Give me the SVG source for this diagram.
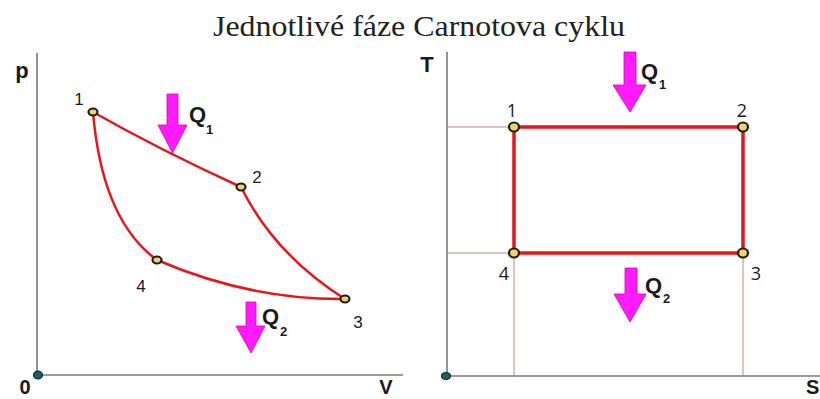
<svg xmlns="http://www.w3.org/2000/svg" width="820" height="399" viewBox="0 0 820 399">
<style>
.axis{stroke:#7a7a7a;stroke-width:1.6;fill:none}
.guide{stroke:#c08888;stroke-width:1;fill:none}
.cyc{stroke:#e8141c;fill:none;stroke-linecap:round;stroke-linejoin:round}
.pt{fill:#e9d76a;stroke:#1e1e1e;stroke-width:2.2}
.org{fill:#1f5e5e;stroke:#0d2e2e;stroke-width:1.2}
.arr{fill:#ff1aff;stroke:#e0009e;stroke-width:0.8}
.ax{font-family:"Liberation Sans",Arial,sans-serif;font-weight:bold;font-size:22px;fill:#1a1a1a}
.axb{font-family:"Liberation Sans",Arial,sans-serif;font-weight:bold;font-size:20px;fill:#1a1a1a}
.q{font-family:"Liberation Sans",Arial,sans-serif;font-weight:bold;font-size:22px;fill:#1a1a1a}
.qs{font-family:"Liberation Sans",Arial,sans-serif;font-weight:bold;font-size:13px;fill:#1a1a1a}
.lbl{font-family:"Liberation Sans",Arial,sans-serif;font-size:17px;fill:#1a1a1a}
.lbr{font-family:"Open Sans","DejaVu Sans",sans-serif;font-size:18px;fill:#1a1a1a}
.title{font-family:"Liberation Serif","Times New Roman",serif;font-size:29px;fill:#222}
</style>
<text class="title" x="213" y="36" textLength="412" lengthAdjust="spacingAndGlyphs">Jednotlivé fáze Carnotova cyklu</text>

<g id="pv-axes">
<line class="axis" x1="37" y1="53" x2="37" y2="375"/>
<line class="axis" x1="37" y1="375" x2="403" y2="375"/>
<ellipse class="org" cx="38" cy="375" rx="4.5" ry="3.8"/>
<text class="ax" x="22" y="78" text-anchor="middle">p</text>
<text class="axb" x="25" y="394" text-anchor="middle">0</text>
<text class="axb" x="386" y="394" text-anchor="middle">V</text>
</g>

<g id="pv-connectors">
<path class="cyc" stroke-width="2.5" d="M93,112 Q160,150 241,187"/>
<path class="cyc" stroke-width="2.5" d="M241,187 Q275,255 345,299"/>
<path class="cyc" stroke-width="2.5" d="M93,112 Q102,220 157,260"/>
<path class="cyc" stroke-width="2.5" d="M157,260 Q250,300 345,299"/>
</g>

<g id="pv-node1"><ellipse class="pt" cx="93" cy="112" rx="4.5" ry="3.5"/><text class="lbl" x="79" y="105" text-anchor="middle">1</text></g>
<g id="pv-node2"><ellipse class="pt" cx="241" cy="187" rx="4.5" ry="3.5"/><text class="lbl" x="257" y="183" text-anchor="middle">2</text></g>
<g id="pv-node3"><ellipse class="pt" cx="345" cy="299" rx="4.5" ry="3.5"/><text class="lbl" x="358" y="328" text-anchor="middle">3</text></g>
<g id="pv-node4"><ellipse class="pt" cx="157" cy="260" rx="4.5" ry="3.5"/><text class="lbl" x="141" y="292" text-anchor="middle">4</text></g>

<g id="pv-q1">
<polygon class="arr" points="167,94 178,94 178,125 187,125 172.5,153 158,125 167,125"/>
<text class="q" x="189" y="122">Q</text><text class="qs" x="206" y="134">1</text>
</g>
<g id="pv-q2">
<polygon class="arr" points="246,302 256,302 256,326 265,326 251,353 236,326 246,326"/>
<text class="q" x="262" y="324">Q</text><text class="qs" x="280" y="336">2</text>
</g>

<g id="ts-axes">
<line class="axis" x1="447" y1="52" x2="447" y2="376"/>
<line class="axis" x1="447" y1="376" x2="820" y2="376"/>
<ellipse class="org" cx="446" cy="376" rx="4.5" ry="3.5"/>
<text class="ax" x="427" y="72" text-anchor="middle">T</text>
<text class="axb" x="806" y="394">S</text>
</g>

<g id="ts-guides">
<line class="guide" x1="447" y1="127" x2="514" y2="127"/>
<line class="guide" x1="447" y1="253" x2="514" y2="253"/>
<line class="guide" x1="514" y1="253" x2="514" y2="376"/>
<line class="guide" x1="743" y1="253" x2="743" y2="376"/>
</g>

<g id="ts-connectors">
<rect class="cyc" stroke-width="3.5" x="514" y="127" width="229" height="126"/>
</g>

<g id="ts-node1"><ellipse class="pt" cx="514" cy="127" rx="5" ry="4.5"/><text class="lbr" x="512" y="117" text-anchor="middle">1</text></g>
<g id="ts-node2"><ellipse class="pt" cx="743" cy="127" rx="5" ry="4.5"/><text class="lbr" x="742" y="117" text-anchor="middle">2</text></g>
<g id="ts-node3"><ellipse class="pt" cx="743" cy="253" rx="5" ry="4.5"/><text class="lbr" x="756" y="280" text-anchor="middle">3</text></g>
<g id="ts-node4"><ellipse class="pt" cx="514" cy="253" rx="5" ry="4.5"/><text class="lbr" x="504" y="280" text-anchor="middle">4</text></g>

<g id="ts-q1">
<polygon class="arr" points="624,52 636,52 636,85 646,85 630,112 613,85 624,85"/>
<text class="q" x="641" y="79">Q</text><text class="qs" x="659" y="89">1</text>
</g>
<g id="ts-q2">
<polygon class="arr" points="625,268 637,268 637,294 646,294 630,322 614,294 625,294"/>
<text class="q" x="645" y="293">Q</text><text class="qs" x="663" y="303">2</text>
</g>
</svg>
